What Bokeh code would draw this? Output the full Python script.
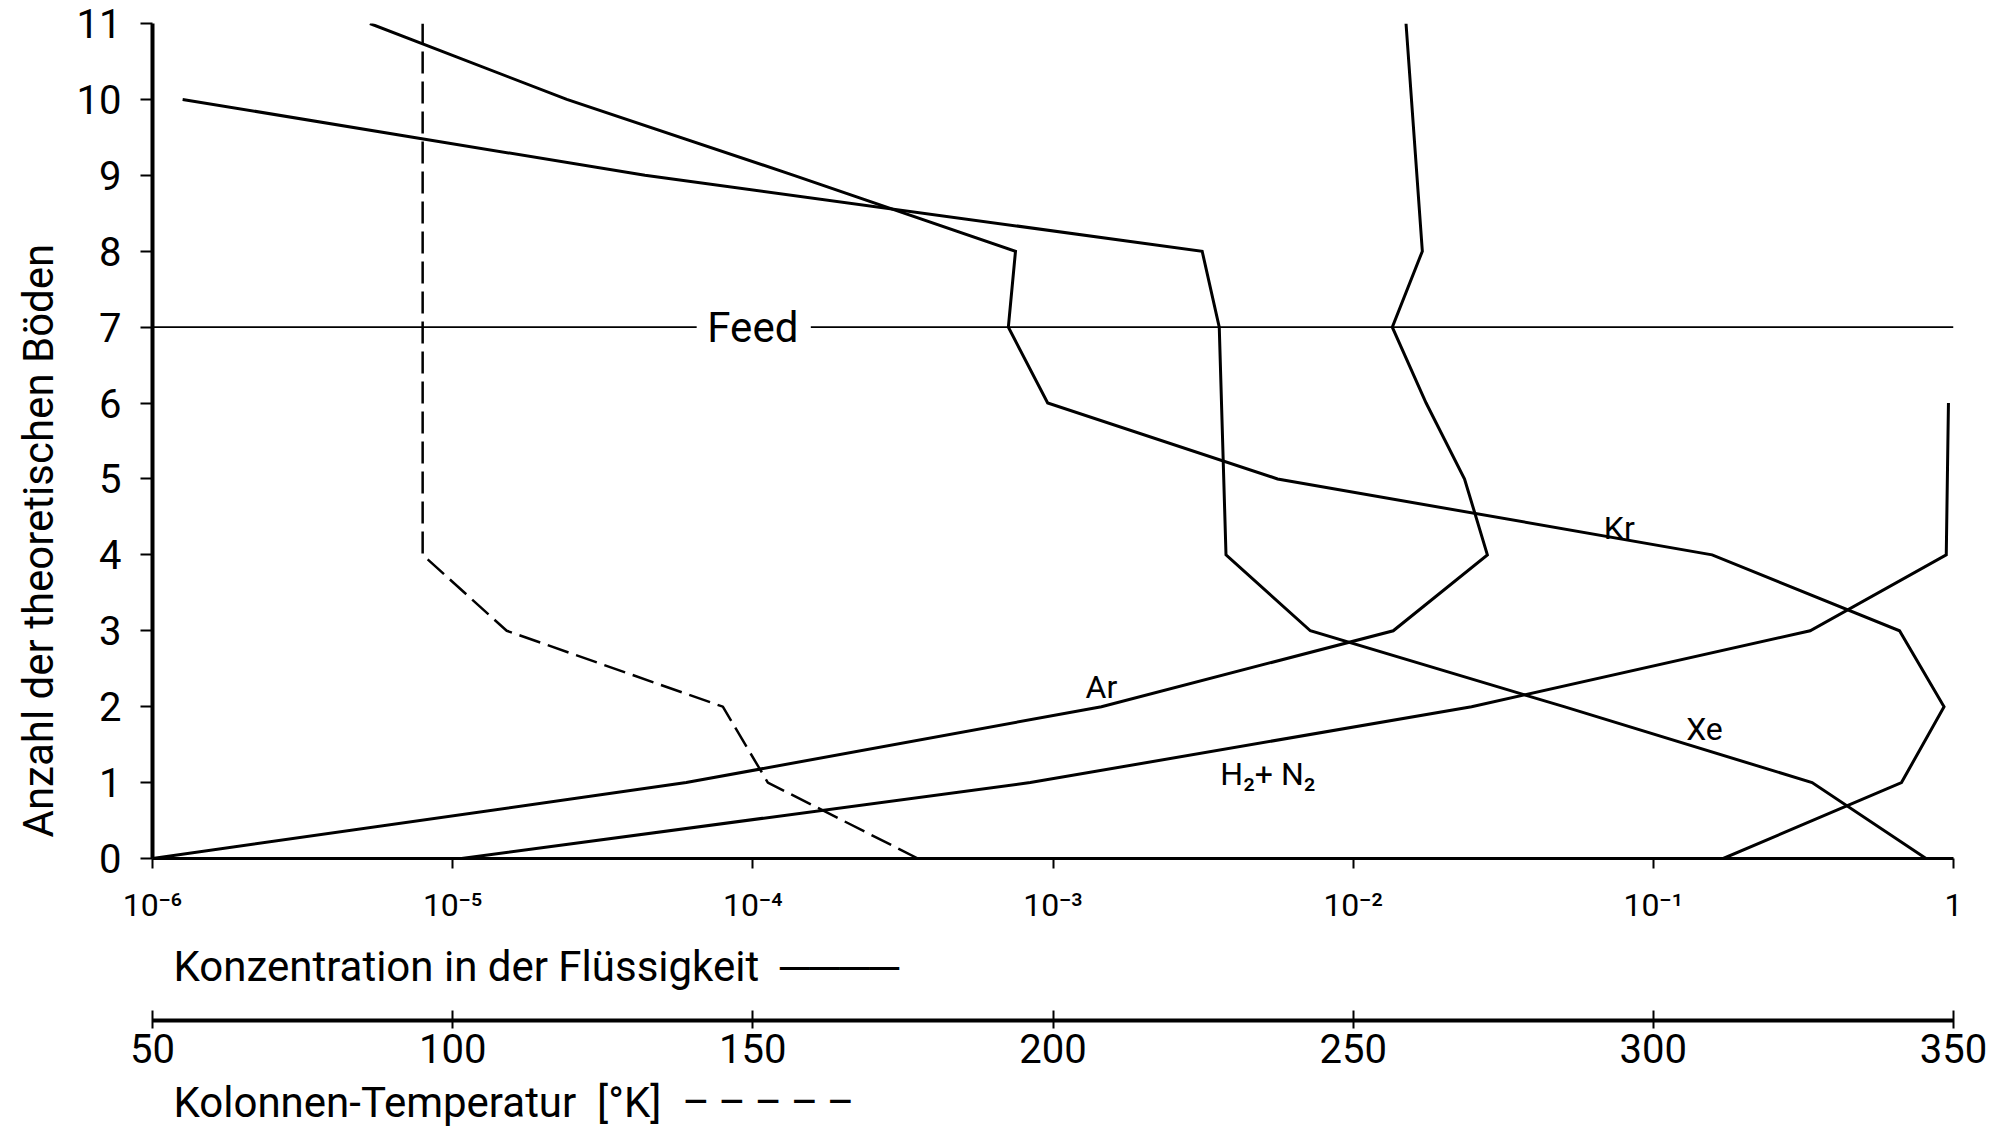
from bokeh.plotting import figure
from bokeh.models import (Range1d, LinearScale, LinearAxis, FixedTicker,
                          CustomJSTickFormatter, Title)
from bokeh.core.properties import value
from bokeh.embed import file_html
from bokeh.resources import INLINE

FONT = "Roboto"

# ---------------- data ----------------
# concentration in the liquid (log axis) versus theoretical plate number
ar_stage = [0, 1, 2, 3, 4, 5, 6, 7, 8, 11]
ar_conc = [1.0e-6, 6.0e-5, 1.45e-3, 1.36e-2, 2.8e-2, 2.35e-2, 1.75e-2, 1.35e-2, 1.7e-2, 1.5e-2]

kr_stage = [0, 1, 2, 3, 4, 5, 6, 7, 8, 9, 10, 11]
kr_conc = [0.171, 0.671, 0.93, 0.661, 0.157, 5.6e-3, 9.6e-4, 7.1e-4, 7.5e-4, 1.37e-4, 2.4e-5, 5.3e-6]

xe_stage = [0, 1, 2, 3, 4, 7, 8, 9, 10]
xe_conc = [0.81, 0.338, 0.0504, 7.2e-3, 3.77e-3, 3.58e-3, 3.14e-3, 4.37e-5, 1.26e-6]

h2n2_stage = [0, 1, 2, 3, 4, 6]
h2n2_conc = [1.07e-5, 8.4e-4, 0.0248, 0.333, 0.946, 0.962]

# column temperature [K] versus plate number (dashed)
temp_stage = [0, 1, 2, 3, 4, 11]
temp_K = [177.5, 152.5, 145.0, 109.0, 95.0, 95.0]

feed_stage = 7
feed_label = "Feed"

conc_ticks = [1e-6, 1e-5, 1e-4, 1e-3, 1e-2, 1e-1, 1.0]
temp_ticks = [50, 100, 150, 200, 250, 300, 350]
stage_ticks = list(range(0, 12))

curve_names = ["Ar", "Kr", "Xe", "H\u2082+ N\u2082"]
curve_name_x = [1.45e-3, 7.7e-2, 0.148, 5.2e-3]
curve_name_y = [2.26, 4.36, 1.70, 1.11]

y_title = "Anzahl der theoretischen B\u00f6den"
x_title = "Konzentration in der Fl\u00fcssigkeit \u00a0\u2500\u2500\u2500\u2500"
t_title = ("Kolonnen-Temperatur\u00a0 [\u00b0K]\u00a0 "
           "\u2013\u2009\u2013\u2009\u2013\u2009\u2013\u2009\u2013")

# ---------------- figure ----------------
p = figure(width=2005, height=1136, x_axis_type="log",
           x_range=Range1d(1e-6, 1.0), y_range=Range1d(0, 11),
           output_backend="svg", toolbar_location=None,
           min_border_left=151, min_border_right=52,
           min_border_top=23, min_border_bottom=278)
p.grid.visible = False
p.outline_line_color = None
p.background_fill_color = "white"
p.border_fill_color = "white"

p.extra_x_ranges = {"temp": Range1d(50, 350)}
p.extra_x_scales = {"temp": LinearScale()}

# log concentration axis
xa = p.xaxis[0]
xa.ticker = FixedTicker(ticks=conc_ticks, minor_ticks=[])
xa.formatter = CustomJSTickFormatter(code="""
const e = Math.round(Math.log10(tick));
if (e === 0) { return "1"; }
const sup = {"0":"\u2070","1":"\u00b9","2":"\u00b2","3":"\u00b3","4":"\u2074",
             "5":"\u2075","6":"\u2076","7":"\u2077","8":"\u2078","9":"\u2079","-":"\u207b"};
return "10" + String(e).split("").map(c => sup[c]).join("");
""")
xa.axis_line_width = 3
xa.axis_line_color = "black"
xa.major_tick_out = 10
xa.major_tick_in = 0
xa.major_tick_line_width = 2
xa.minor_tick_out = 0
xa.minor_tick_in = 0
xa.major_label_text_font = FONT
xa.major_label_text_font_size = "32px"
xa.major_label_text_color = "black"
xa.major_label_standoff = 17


def make_title(text, standoff, align="left", offset=21, valign="top", size="42px"):
    t = Title(text=text, align=align, offset=offset, standoff=standoff,
              vertical_align=valign)
    t.text_font = FONT
    t.text_font_size = size
    t.text_font_style = "normal"
    t.text_color = "black"
    return t


p.add_layout(make_title(x_title, 30), "below")
p.add_layout(make_title("\u00a0", 10, size="1px"), "below")   # spacer

# temperature axis
ta = LinearAxis(x_range_name="temp", ticker=FixedTicker(ticks=temp_ticks, minor_ticks=[]))
ta.axis_line_width = 4
ta.major_tick_in = 10
ta.major_tick_out = 8
ta.major_tick_line_width = 2
ta.minor_tick_out = 0
ta.minor_tick_in = 0
ta.major_label_text_font = FONT
ta.major_label_text_font_size = "40px"
ta.major_label_text_color = "black"
ta.major_label_standoff = 5
p.add_layout(ta, "below")

p.add_layout(make_title("\u00a0", 9, size="1px"), "below")    # spacer
p.add_layout(make_title(t_title, 0), "below")

# plate axis
ya = p.yaxis[0]
ya.ticker = FixedTicker(ticks=stage_ticks, minor_ticks=[])
ya.axis_line_width = 4
ya.major_tick_out = 12
ya.major_tick_in = 0
ya.major_tick_line_width = 2
ya.minor_tick_out = 0
ya.minor_tick_in = 0
ya.major_label_text_font = FONT
ya.major_label_text_font_size = "40px"
ya.major_label_text_color = "black"
ya.major_label_standoff = 19

p.add_layout(make_title(y_title, 22, valign="bottom"), "left")

# ---------------- curves ----------------
for xs, ys in [(ar_conc, ar_stage), (kr_conc, kr_stage), (xe_conc, xe_stage), (h2n2_conc, h2n2_stage)]:
    p.line(x=xs, y=ys, line_color="black", line_width=3, line_join="miter")

p.line(x=temp_K, y=temp_stage, x_range_name="temp", line_color="black",
       line_width=2.5, line_dash="22 8")

# feed line with a gap for its label
p.segment(x0=[1e-6, 1.56e-4], y0=[feed_stage, feed_stage],
          x1=[6.5e-5, 1.0], y1=[feed_stage, feed_stage],
          line_color="black", line_width=1.6)
p.text(x=[1e-4], y=[feed_stage], text=[feed_label], text_font=value(FONT),
       text_font_size="42px", text_align="center", text_baseline="middle",
       text_color="black")

p.text(x=curve_name_x, y=curve_name_y, text=curve_names, text_font=value(FONT),
       text_font_size="32px", text_align="center", text_baseline="middle",
       text_color="black")

open("out.html", "w").write(file_html(p, INLINE))
